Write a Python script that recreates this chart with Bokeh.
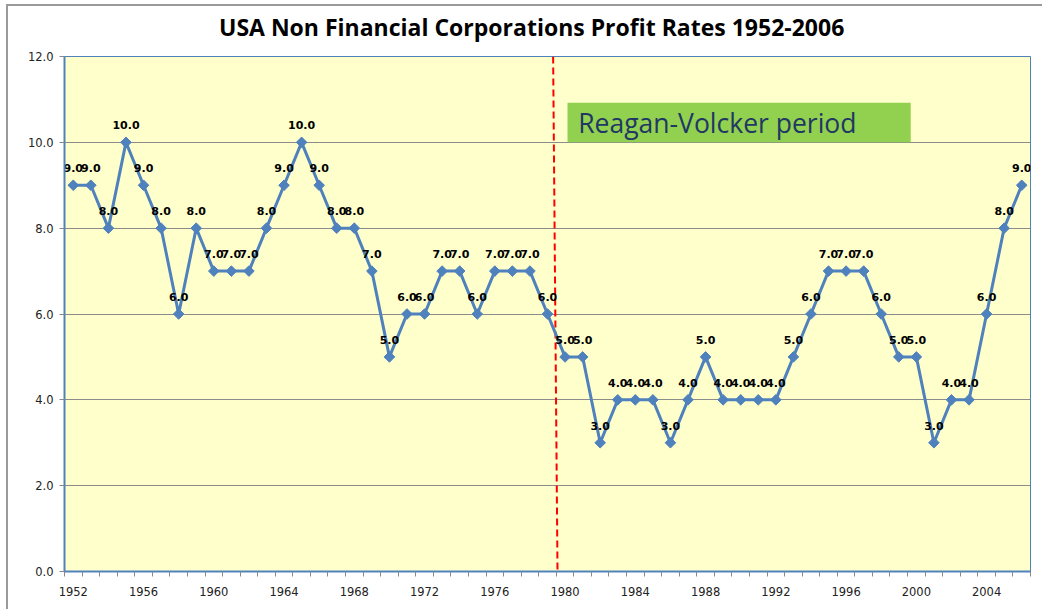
from bokeh.plotting import figure
from bokeh.layouts import column
from bokeh.models import (FixedTicker, PrintfTickFormatter, Range1d, BoxAnnotation, Label,
                          ColumnDataSource, Div)
from bokeh.core.properties import value
from bokeh.embed import file_html
from bokeh.resources import INLINE
import numpy as np

# ---------------- data ----------------
years = list(range(1952, 2007))
profit_rate = [9, 9, 8, 10, 9, 8, 6, 8, 7, 7,
               7, 8, 9, 10, 9, 8, 8, 7, 5, 6,
               6, 7, 7, 6, 7, 7, 7, 6, 5, 5,
               3, 4, 4, 4, 3, 4, 5, 4, 4, 4,
               4, 5, 6, 7, 7, 7, 6, 5, 5, 3,
               4, 4, 6, 8, 9]
x_tick_labels = list(range(1952, 2007, 4))
y_ticks = [0, 2, 4, 6, 8, 10, 12]
title_text = "USA Non Financial Corporations Profit Rates 1952-2006"
period_text = "Reagan-Volcker period"
# annotation placement (data units)
period_line_top = (1979.32, 12.0)
period_line_bottom = (1979.57, 0.0)
box_left, box_right, box_bottom, box_top = 1980.14, 1999.68, 10.0, 10.92
box_text_x, box_text_y = 1980.75, 10.45

src = ColumnDataSource(dict(x=years, y=profit_rate,
                            lbl=[f"{v:.1f}" for v in profit_rate]))

title_div = Div(text=title_text, width=1036, height=30,
                styles={"font-family": "Open Sans", "font-weight": "bold", "font-size": "23px",
                        "color": "black", "line-height": "1", "padding-left": "206px",
                        "padding-top": "5px", "white-space": "nowrap",
                        "background-color": "white", "box-sizing": "border-box"})

p = figure(width=1036, height=565, output_backend="svg", toolbar_location=None,
           x_range=Range1d(1951.5, 2006.5), y_range=Range1d(0, 12),
           min_border_left=56, min_border_right=14, min_border_top=10, min_border_bottom=40,
           background_fill_color="#FFFFCC", border_fill_color="white")
p.title.text = ""

p.outline_line_color = "#4F81BD"
p.outline_line_width = 1

# x axis
xa = p.xaxis[0]
xa.ticker = FixedTicker(ticks=x_tick_labels,
                        minor_ticks=[y - 0.5 for y in years] + [years[-1] + 0.5])
xa.major_tick_line_color = None
xa.major_tick_out = 5
xa.minor_tick_in = 0
xa.minor_tick_out = 5
xa.minor_tick_line_color = "#888888"
xa.axis_line_color = "#4F81BD"
xa.axis_line_width = 2
xa.major_label_standoff = 10
xa.major_label_text_font = "DejaVu Sans"
xa.major_label_text_font_size = "11.5px"
xa.major_label_text_color = "#222222"

# y axis
ya = p.yaxis[0]
ya.ticker = FixedTicker(ticks=y_ticks, minor_ticks=[])
ya.formatter = PrintfTickFormatter(format="%.1f")
ya.major_tick_in = 0
ya.major_tick_out = 5
ya.major_tick_line_color = "#888888"
ya.minor_tick_line_color = None
ya.axis_line_color = "#4F81BD"
ya.axis_line_width = 2
ya.major_label_standoff = 6
ya.major_label_text_font = "DejaVu Sans"
ya.major_label_text_font_size = "11.5px"
ya.major_label_text_color = "#222222"

p.xgrid.grid_line_color = None
p.ygrid.grid_line_color = "#8c8c8c"
p.ygrid.grid_line_width = 1

# period box
p.add_layout(BoxAnnotation(left=box_left, right=box_right, bottom=box_bottom, top=box_top,
                           fill_color="#92D050", fill_alpha=1.0, line_color=None, level="overlay"))
p.add_layout(Label(x=box_text_x, y=box_text_y, text=period_text,
                   text_font="Open Sans", text_font_size="26.5px", text_color="#1F3864",
                   text_baseline="middle", text_align="left", level="overlay"))

# red dashed divider
p.segment(x0=[period_line_top[0]], y0=[period_line_top[1]],
          x1=[period_line_bottom[0]], y1=[period_line_bottom[1]],
          line_color="#FF0000", line_width=2, line_dash="7 4")

# series
p.line("x", "y", source=src, line_color="#4F81BD", line_width=3)
p.scatter("x", "y", source=src, marker="square", angle=np.pi / 4, size=7.5,
          fill_color="#4F81BD", line_color="#4F81BD")
p.text("x", "y", text="lbl", source=src, y_offset=-17, text_align="center",
       text_baseline="middle", text_font=value("DejaVu Sans"), text_font_style="bold",
       text_font_size="11px", text_color="black")

layout = column(title_div, p, spacing=0,
                styles={"margin-left": "6px", "margin-top": "4px",
                        "border-left": "2px solid #9a9a9a", "border-top": "2px solid #9a9a9a"})

open("out.html", "w").write(file_html(layout, INLINE))
